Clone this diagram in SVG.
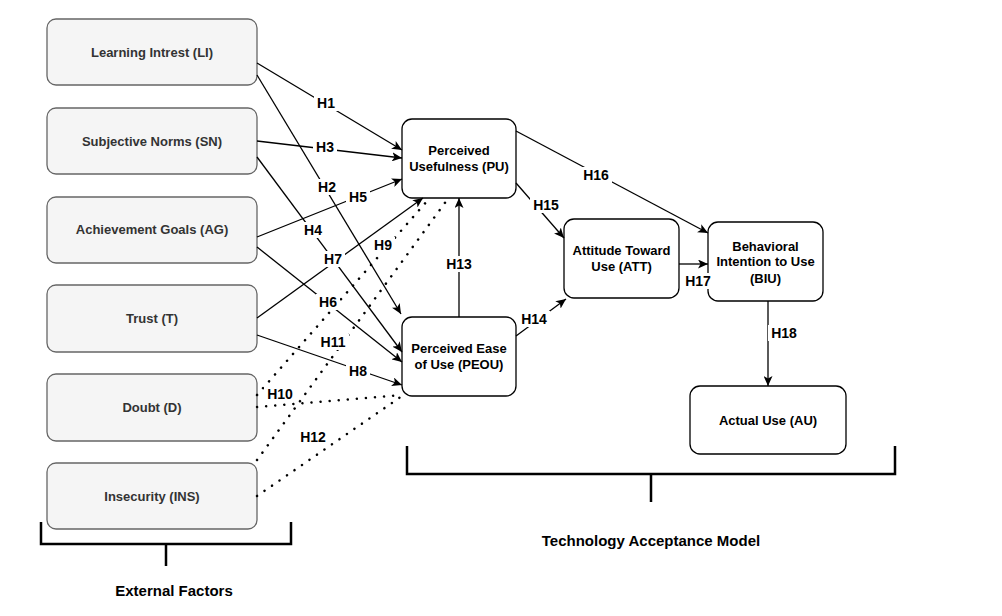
<svg xmlns="http://www.w3.org/2000/svg" width="1002" height="616" viewBox="0 0 1002 616">
<style>
.ext rect{fill:#f5f5f5;stroke:#666;stroke-width:1.3}
.ext text{fill:#333}
.tam rect{fill:#fff;stroke:#000;stroke-width:1.3}
text{font-family:"Liberation Sans",Arial,sans-serif;font-weight:bold;font-size:13px;text-anchor:middle}
.ln{stroke:#000;stroke-width:1.3;fill:none}
.arr{marker-end:url(#ah)}
.dot{stroke:#000;stroke-width:2.5;fill:none;stroke-dasharray:0.1 9;stroke-linecap:round}
.lbl rect{fill:#fff}
.lbl text{font-size:14px;fill:#000}
.br{stroke:#000;stroke-width:2.5;fill:none}
.title{font-size:15px;fill:#000}
</style>
<defs>
<marker id="ah" markerUnits="userSpaceOnUse" markerWidth="11" markerHeight="9" refX="10" refY="4.5" orient="auto">
<path d="M0,0 L10,4.5 L0,9 L2.5,4.5 z" fill="#000"/>
</marker>
</defs>
<rect width="1002" height="616" fill="#fff"/>

<g id="LI" class="ext"><rect x="47" y="19" width="210" height="66" rx="9"/><text x="152" y="56.5">Learning Intrest (LI)</text></g>
<g id="SN" class="ext"><rect x="47" y="108" width="210" height="66" rx="9"/><text x="152" y="145.5">Subjective Norms (SN)</text></g>
<g id="AG" class="ext"><rect x="47" y="197" width="210" height="66" rx="9"/><text x="152" y="234">Achievement Goals (AG)</text></g>
<g id="T" class="ext"><rect x="47" y="285" width="210" height="67" rx="9"/><text x="152" y="323">Trust (T)</text></g>
<g id="D" class="ext"><rect x="47" y="374" width="210" height="67" rx="9"/><text x="152" y="412">Doubt (D)</text></g>
<g id="INS" class="ext"><rect x="47" y="463" width="210" height="66" rx="9"/><text x="152" y="501">Insecurity (INS)</text></g>

<g id="PU" class="tam"><rect x="402" y="119" width="114" height="79" rx="10"/><text x="459" y="155">Perceived</text><text x="459" y="171">Usefulness (PU)</text></g>
<g id="PEOU" class="tam"><rect x="402" y="317" width="114" height="79" rx="10"/><text x="459" y="353">Perceived Ease</text><text x="459" y="369">of Use (PEOU)</text></g>
<g id="ATT" class="tam"><rect x="564" y="219" width="115" height="79" rx="10"/><text x="621.5" y="255">Attitude Toward</text><text x="621.5" y="271">Use (ATT)</text></g>
<g id="BIU" class="tam"><rect x="708" y="222" width="115" height="79" rx="10"/><text x="765.5" y="250.5">Behavioral</text><text x="765.5" y="266">Intention to Use</text><text x="765.5" y="282.5">(BIU)</text></g>
<g id="AU" class="tam"><rect x="690" y="386" width="156" height="68" rx="10"/><text x="768" y="424.5">Actual Use (AU)</text></g>

<g id="connectors">
<line class="ln arr" x1="257" y1="63" x2="402" y2="150"/>
<line class="ln arr" x1="257" y1="141" x2="402" y2="158"/>
<line class="ln arr" x1="257" y1="237" x2="402" y2="179"/>
<line class="ln arr" x1="257" y1="75" x2="401" y2="314"/>
<line class="ln arr" x1="257" y1="157" x2="402" y2="352"/>
<line class="ln arr" x1="257" y1="247" x2="402" y2="362"/>
<line class="ln arr" x1="257" y1="318" x2="423" y2="198"/>
<line class="ln arr" x1="257" y1="335" x2="402" y2="385"/>
<line class="dot" x1="257" y1="395" x2="428" y2="200"/>
<line class="dot" x1="257" y1="460" x2="447" y2="200"/>
<line class="dot" x1="257" y1="407" x2="402" y2="395"/>
<line class="dot" x1="257" y1="496" x2="402" y2="396"/>
<line class="ln arr" x1="459" y1="317" x2="459" y2="198"/>
<line class="ln arr" x1="516" y1="336" x2="566" y2="299"/>
<line class="ln arr" x1="516" y1="183" x2="564" y2="238"/>
<line class="ln arr" x1="516" y1="131" x2="708" y2="233"/>
<line class="ln arr" x1="679" y1="264" x2="708" y2="264"/>
<line class="ln arr" x1="768" y1="301" x2="768" y2="386"/>
<g class="lbl">
<rect x="314" y="95" width="24" height="16"/><text x="326" y="108">H1</text>
<rect x="313" y="139" width="24" height="16"/><text x="325" y="152">H3</text>
<rect x="315" y="179" width="24" height="16"/><text x="327" y="192">H2</text>
<rect x="346" y="189" width="24" height="16"/><text x="358" y="202">H5</text>
<rect x="301" y="222" width="24" height="16"/><text x="313" y="235">H4</text>
<rect x="321" y="251" width="24" height="16"/><text x="333" y="264">H7</text>
<rect x="371" y="237" width="24" height="16"/><text x="383" y="250">H9</text>
<rect x="316" y="294" width="24" height="16"/><text x="328" y="307">H6</text>
<rect x="317" y="334" width="32" height="16"/><text x="333" y="347">H11</text>
<rect x="346" y="363" width="24" height="16"/><text x="358" y="376">H8</text>
<rect x="264" y="386" width="32" height="16"/><text x="280" y="399">H10</text>
<rect x="297" y="429" width="32" height="16"/><text x="313" y="442">H12</text>
<rect x="443" y="256" width="32" height="16"/><text x="459" y="269">H13</text>
<rect x="518" y="311" width="32" height="16"/><text x="534" y="324">H14</text>
<rect x="530" y="197" width="32" height="16"/><text x="546" y="210">H15</text>
<rect x="580" y="167" width="32" height="16"/><text x="596" y="180">H16</text>
<rect x="684" y="273" width="28" height="16"/><text x="698" y="286">H17</text>
<rect x="768" y="325" width="32" height="16"/><text x="784" y="338">H18</text>
</g>
</g>

<g id="external-factors">
<path class="br" d="M41,522 V544 H291 V522 M166,544 V566"/>
<text class="title" x="174" y="596">External Factors</text>
</g>
<g id="tam-bracket">
<path class="br" d="M407,446 V474 H895 V446 M651,474 V502"/>
<text class="title" x="651" y="546">Technology Acceptance Model</text>
</g>
</svg>
